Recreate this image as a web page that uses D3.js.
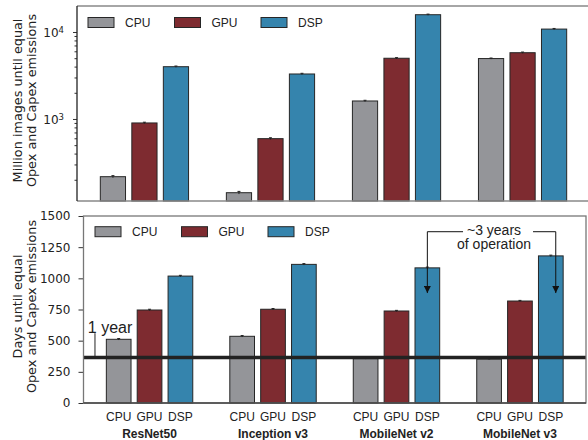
<!DOCTYPE HTML>
<html>
  <head>
    <style>
      body { margin: 0px; background: #fff; }
      text { fill: #222; }
    </style>
  </head>
  <body>
  <script src="https://cdn.jsdelivr.net/npm/d3@7"></script>
  <script>

    // *** DATA ***
    var models = ["ResNet50", "Inception v3", "MobileNet v2", "MobileNet v3"];
    var procs = ["CPU", "GPU", "DSP"];

    // Million images until equal Opex and Capex emissions (log)
    var imgCPU = [217, 142, 1610, 4950];
    var imgGPU = [900, 594, 4990, 5780];
    var imgDSP = [3990, 3290, 15800, 10800];
    var imgErr = [[6, 5, 30, 70], [18, 14, 80, 100], [70, 60, 250, 180]];

    // Days until equal Opex and Capex emissions
    var dayCPU = [511, 535, 356, 352];
    var dayGPU = [746, 752, 738, 818];
    var dayDSP = [1018, 1112, 1084, 1180];
    var dayErr = [[6, 6, 4, 4], [6, 6, 5, 5], [6, 6, 6, 6]];

    var dayTicks = [0, 250, 500, 750, 1000, 1250, 1500];
    var oneYear = 365;

    var colors = {"CPU": "#949599", "GPU": "#7e2b30", "DSP": "#3584ad"};

    // *** FUNCTIONS ***
    function makeBars(a, b, c, err){
      var out = [];
      [a, b, c].forEach(function(s, j){
        s.forEach(function(v, i){
          out.push({g: i, j: j, proc: procs[j], v: v, e: err[j][i]});
        });
      });
      return out;
    }

    function drawBars(g, data, x, y){
      g.selectAll("rect.bar").data(data).enter().append("rect")
        .attr("class", "bar")
        .attr("x", function(d){ return x(d.g + (d.j - 1) * 0.25 - 0.1); })
        .attr("width", function(d){ return x(0.2) - x(0); })
        .attr("y", function(d){ return y(d.v); })
        .attr("height", function(d){ return y.range()[0] - y(d.v); })
        .style("fill", function(d){ return colors[d.proc]; })
        .style("stroke", "#262626")
        .style("stroke-width", 1);
      // error bars
      var eb = g.selectAll("g.err").data(data).enter().append("g").attr("class", "err");
      eb.append("line")
        .attr("x1", function(d){ return x(d.g + (d.j - 1) * 0.25); })
        .attr("x2", function(d){ return x(d.g + (d.j - 1) * 0.25); })
        .attr("y1", function(d){ return y(d.v - d.e); })
        .attr("y2", function(d){ return y(d.v + d.e); })
        .style("stroke", "#222").style("stroke-width", 1);
      eb.append("line")
        .attr("x1", function(d){ return x(d.g + (d.j - 1) * 0.25) - 1.5; })
        .attr("x2", function(d){ return x(d.g + (d.j - 1) * 0.25) + 1.5; })
        .attr("y1", function(d){ return y(d.v + d.e); })
        .attr("y2", function(d){ return y(d.v + d.e); })
        .style("stroke", "#222").style("stroke-width", 1);
    }

    function drawLegend(g, x0, y0){
      procs.forEach(function(p, i){
        g.append("rect")
          .attr("x", x0 + i * 86.5).attr("y", y0 - 5)
          .attr("width", 26).attr("height", 10)
          .style("fill", colors[p]).style("stroke", "#262626").style("stroke-width", 1);
        g.append("text")
          .attr("x", x0 + i * 86.5 + 37).attr("y", y0).attr("dy", ".35em")
          .style("font-family", "Liberation Sans").style("font-size", "12px")
          .text(p);
      });
    }

    function yLabel(g, lines, cy){
      lines.forEach(function(t, i){
        g.append("text")
          .attr("transform", "translate(" + (21.5 + i * 14.5) + "," + cy + ") rotate(-90)")
          .style("text-anchor", "middle")
          .style("font-family", "DejaVu Sans").style("font-size", "12.8px")
          .text(t);
      });
    }

    // *** SVG ***
    var svg = d3.select("body").append("svg")
      .attr("width", 588).attr("height", 440);

    // ---------- TOP PANEL ----------
    var T = {l: 77, r: 590, t: 6, b: 201};
    var xT = d3.scaleLinear().domain([-0.535, 3.535]).range([T.l, T.r]);
    var yT = d3.scaleLog().domain([114, 19900]).range([T.b, T.t]);
    var gT = svg.append("g");

    drawBars(gT, makeBars(imgCPU, imgGPU, imgDSP, imgErr), xT, yT);

    // minor log ticks
    var minor = [];
    [100, 1000, 10000].forEach(function(dec){
      for (var k = 2; k <= 9; k++){ if (dec * k > 114 && dec * k < 19900) minor.push(dec * k); }
    });
    var minorAx = gT.append("g").attr("transform", "translate(" + T.l + ",0)")
      .call(d3.axisLeft(yT).tickValues(minor).tickSize(2.5).tickFormat(""));
    var majorAx = gT.append("g").attr("transform", "translate(" + T.l + ",0)")
      .call(d3.axisLeft(yT).tickValues([1000, 10000]).tickSize(4).tickPadding(13)
        .tickFormat(""));
    [minorAx, majorAx].forEach(function(a){
      a.select(".domain").remove();
      a.selectAll("line").style("stroke", "#333");
    });
    majorAx.selectAll(".tick").append("text")
      .attr("x", -13).attr("dy", ".35em")
      .style("text-anchor", "end")
      .style("font-family", "DejaVu Sans").style("font-size", "12px")
      .each(function(d){
        var t = d3.select(this);
        t.append("tspan").text("10");
        t.append("tspan").attr("dy", "-0.45em").style("font-size", "8.5px")
          .text(String(Math.round(Math.log10(d))));
      });

    // spines
    gT.append("line").attr("x1", T.l).attr("x2", T.r).attr("y1", T.t).attr("y2", T.t)
      .style("stroke", "#888").style("stroke-width", 1.5);
    gT.append("line").attr("x1", T.l).attr("x2", T.r).attr("y1", T.b).attr("y2", T.b)
      .style("stroke", "#888").style("stroke-width", 1.5);
    gT.append("line").attr("x1", T.r).attr("x2", T.r).attr("y1", T.t).attr("y2", T.b)
      .style("stroke", "#888").style("stroke-width", 1.5);
    gT.append("line").attr("x1", T.l).attr("x2", T.l).attr("y1", T.t).attr("y2", T.b)
      .style("stroke", "#222").style("stroke-width", 1.3);

    drawLegend(gT, T.l + 11, T.t + 16.5);
    yLabel(gT, ["Million images until equal", "Opex and Capex emissions"], (T.t + T.b) / 2 - 3);

    // ---------- BOTTOM PANEL ----------
    var B = {l: 83.5, r: 586, t: 216, b: 403};
    var xB = d3.scaleLinear().domain([-0.535, 3.535]).range([B.l, B.r]);
    var yB = d3.scaleLinear().domain([0, 1500]).range([B.b, B.t]);
    var gB = svg.append("g");

    drawBars(gB, makeBars(dayCPU, dayGPU, dayDSP, dayErr), xB, yB);

    // 1 year line
    gB.append("line")
      .attr("x1", B.l).attr("x2", B.r)
      .attr("y1", yB(oneYear)).attr("y2", yB(oneYear))
      .style("stroke", "#222").style("stroke-width", 3.5);

    var yAxB = gB.append("g").attr("transform", "translate(" + B.l + ",0)")
      .call(d3.axisLeft(yB).tickValues(dayTicks).tickSize(5).tickPadding(8).tickFormat(d3.format("d")));
    yAxB.select(".domain").remove();
    yAxB.selectAll("line").style("stroke", "#333");
    yAxB.selectAll("text")
      .style("font-family", "DejaVu Sans").style("font-size", "12px").style("fill", "#222");

    // spines
    gB.append("rect").attr("x", B.l).attr("y", B.t)
      .attr("width", B.r - B.l).attr("height", B.b - B.t)
      .style("fill", "none").style("stroke", "#777").style("stroke-width", 1.3);
    gB.append("line").attr("x1", B.l).attr("x2", B.r).attr("y1", B.b).attr("y2", B.b)
      .style("stroke", "#444").style("stroke-width", 1.3);

    drawLegend(gB, B.l + 11.5, B.t + 15.7);
    yLabel(gB, ["Days until equal", "Opex and Capex emissions"], (B.t + B.b) / 2 - 3);

    // x tick labels
    var tickData = [];
    models.forEach(function(m, i){
      procs.forEach(function(p, j){ tickData.push({g: i, j: j, p: p}); });
    });
    gB.selectAll("text.xt").data(tickData).enter().append("text")
      .attr("class", "xt")
      .attr("x", function(d){ return xB(d.g + (d.j - 1) * 0.25); })
      .attr("y", 421)
      .style("text-anchor", "middle")
      .style("font-family", "Liberation Sans").style("font-size", "12px")
      .text(function(d){ return d.p; });
    gB.selectAll("text.xg").data(models).enter().append("text")
      .attr("class", "xg")
      .attr("x", function(d, i){ return xB(i); })
      .attr("y", 437.5)
      .style("text-anchor", "middle")
      .style("font-family", "Liberation Sans").style("font-size", "12px")
      .style("font-weight", "bold")
      .text(function(d){ return d; });

    // "1 year" annotation
    gB.append("text")
      .attr("x", xB(-0.5)).attr("y", yB(560))
      .style("font-family", "Liberation Sans").style("font-size", "16px")
      .text("1 year");
    gB.append("line")
      .attr("x1", xB(-0.442)).attr("x2", xB(-0.442))
      .attr("y1", yB(560)).attr("y2", yB(oneYear))
      .style("stroke", "#222").style("stroke-width", 1);

    // "~3 years of operation" annotation
    svg.append("defs").append("marker")
      .attr("id", "ah").attr("viewBox", "0 0 10 10")
      .attr("refX", 10).attr("refY", 5)
      .attr("markerWidth", 11).attr("markerHeight", 7)
      .attr("markerUnits", "userSpaceOnUse")
      .attr("orient", "auto")
      .append("path").attr("d", "M0,0 L10,5 L0,10 z").style("fill", "#111");

    var brY = yB(1374), tipY = yB(882);
    var axL = xB(2.25), axR = xB(3.29), txX = xB(2.79);
    gB.append("path")
      .attr("d", "M" + (txX - 31) + "," + brY + " H" + axL + " V" + tipY)
      .style("fill", "none").style("stroke", "#111").style("stroke-width", 1)
      .attr("marker-end", "url(#ah)");
    gB.append("path")
      .attr("d", "M" + (txX + 39) + "," + brY + " H" + axR + " V" + tipY)
      .style("fill", "none").style("stroke", "#111").style("stroke-width", 1)
      .attr("marker-end", "url(#ah)");
    gB.append("text")
      .attr("x", txX).attr("y", brY + 3)
      .style("text-anchor", "middle")
      .style("font-family", "Liberation Sans").style("font-size", "14px")
      .text("~3 years");
    gB.append("text")
      .attr("x", txX).attr("y", brY + 17.5)
      .style("text-anchor", "middle")
      .style("font-family", "Liberation Sans").style("font-size", "14px")
      .text("of operation");

  </script>
  </body>
</html>
